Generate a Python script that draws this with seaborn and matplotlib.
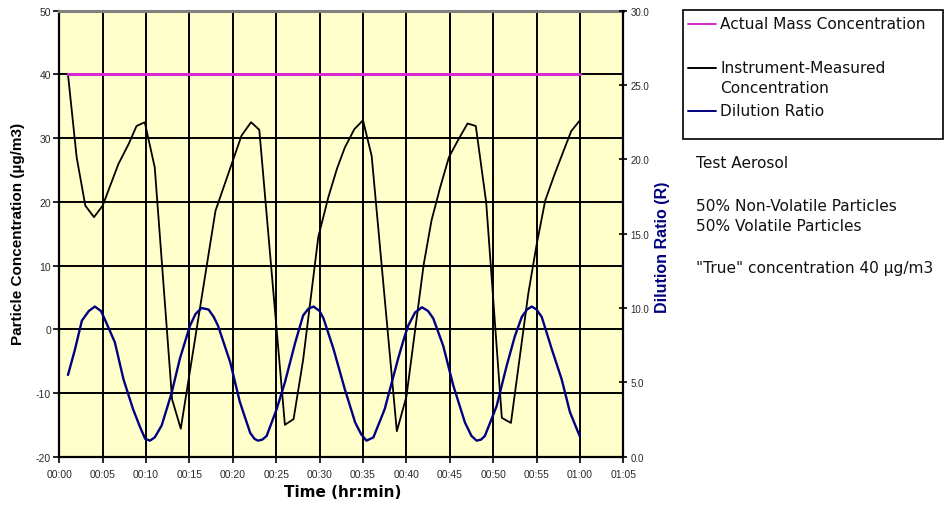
import matplotlib
matplotlib.use("Agg")
import matplotlib.pyplot as plt
from matplotlib.ticker import FuncFormatter, FormatStrFormatter
from matplotlib.lines import Line2D
from matplotlib.patches import Rectangle
import seaborn as sns
import pandas as pd

# ---------------- data ----------------
# time in minutes
actual_time = [1, 60]
actual_mass = [40, 40]

measured_time = [1, 2, 3, 4, 5, 6.8, 8, 8.9, 9.85, 11.0, 13.0, 14.0, 18.0, 21.0, 22.1, 23.05,
                 26.0, 27.0, 28.1, 29.85, 31.0, 32.0, 32.9, 34.0, 35.0, 36.0, 38.9, 40.0,
                 42.0, 42.9, 43.9, 44.9, 46.0, 47.05, 48.0, 49.2, 51.0, 52.05, 54.05, 55.0,
                 56.0, 57.1, 58.2, 59.0, 60.0]
measured_conc = [40.0, 27.0, 19.4, 17.6, 19.4, 25.9, 29.1, 31.9, 32.5, 25.4, -11.0, -15.6, 18.6,
                 30.4, 32.5, 31.3, -15.0, -14.1, -4.8, 14.5, 20.7, 25.2, 28.5, 31.4, 32.8, 27.2,
                 -16.0, -10.6, 10.2, 17.1, 22.3, 27.0, 29.8, 32.3, 31.9, 19.9, -13.9, -14.7,
                 5.6, 13.2, 20.2, 24.4, 28.3, 31.1, 32.8]

dilution_time = [1.0, 1.8, 2.6, 3.4, 4.1, 4.8, 5.2, 6.4, 7.4, 8.5, 9.3, 9.9, 10.45, 11.0, 11.8,
                 12.95, 13.9, 15.05, 15.7, 16.4, 17.2, 17.8, 18.3, 19.7, 20.8, 22.0, 22.5, 22.9,
                 23.4, 23.9, 25.05, 26.0, 27.2, 28.1, 28.7, 29.3, 30.0, 30.45, 31.6, 32.9, 34.1,
                 34.8, 35.4, 36.2, 37.5, 39.05, 39.8, 40.2, 41.0, 41.8, 42.5, 43.1, 44.25, 45.4,
                 46.75, 47.5, 48.1, 48.6, 49.05, 50.4, 51.55, 52.5, 53.3, 53.9, 54.45, 55.0, 55.6,
                 56.75, 57.9, 58.85, 60.0]
dilution_ratio = [5.5, 7.2, 9.15, 9.8, 10.1, 9.8, 9.3, 7.7, 5.2, 3.2, 2.0, 1.2, 1.08, 1.3, 2.1,
                  4.3, 6.6, 8.8, 9.6, 10.0, 9.9, 9.4, 8.8, 6.35, 3.7, 1.6, 1.2, 1.08,
                  1.15, 1.4, 3.2, 5.0, 7.7, 9.5, 9.95, 10.1, 9.8, 9.3, 7.25, 4.55, 2.3,
                  1.5, 1.08, 1.3, 3.2, 6.6, 8.1, 8.8, 9.7, 10.05, 9.8, 9.3, 7.45, 4.8,
                  2.3, 1.4, 1.08, 1.15, 1.4, 3.4, 6.1, 8.1, 9.4, 9.9, 10.1, 9.9, 9.4,
                  7.25, 5.2, 3.0, 1.35]

x_ticks = list(range(0, 66, 5))
left_ticks = [-20, -10, 0, 10, 20, 30, 40, 50]
right_ticks = [0, 5, 10, 15, 20, 25, 30]

legend_labels = ["Actual Mass Concentration", "Instrument-Measured", "Concentration", "Dilution Ratio"]
note_lines = ["Test Aerosol", "50% Non-Volatile Particles", "50% Volatile Particles",
              "\"True\" concentration 40 µg/m3"]

# ---------------- styling ----------------
sns.set_theme(style="white")
plt.rcParams["font.family"] = ["Liberation Sans", "DejaVu Sans"]
plt.rcParams["axes.unicode_minus"] = False

W, H = 947, 506
fig = plt.figure(figsize=(W / 100, H / 100), dpi=100)
L, R, T, B = 59.3, 623.3, 11.7, 457.7
ax = fig.add_axes([L / W, 1 - B / H, (R - L) / W, (B - T) / H])
ax.set_facecolor("#FFFFCC")
ax2 = ax.twinx()

MAGENTA = "#D42AD0"
NAVY = "#000080"

df_actual = pd.DataFrame({"t": actual_time, "v": actual_mass})
df_meas = pd.DataFrame({"t": measured_time, "v": measured_conc})
df_dil = pd.DataFrame({"t": dilution_time, "v": dilution_ratio})

sns.lineplot(data=df_meas, x="t", y="v", ax=ax, color="black", lw=1.3, sort=False, zorder=3)
sns.lineplot(data=df_actual, x="t", y="v", ax=ax, color=MAGENTA, lw=2.2, sort=False, zorder=4)
sns.lineplot(data=df_dil, x="t", y="v", ax=ax2, color=NAVY, lw=1.7, sort=False, zorder=3)

ax.set_xlim(0, 65)
ax.set_ylim(-20, 50)
ax2.set_ylim(0, 30)
ax.set_xticks(x_ticks)
ax.set_yticks(left_ticks)
ax2.set_yticks(right_ticks)
ax.xaxis.set_major_formatter(FuncFormatter(lambda v, p: f"{int(v) // 60:02d}:{int(v) % 60:02d}"))
ax2.yaxis.set_major_formatter(FormatStrFormatter("%.1f"))

ax.set_axisbelow(True)
ax.grid(True, color="black", lw=1.4)
ax2.grid(False)

tick_col = "#2a2a2a"
ax.tick_params(axis="x", direction="out", length=4, width=1.2, color="black",
               labelsize=7.5, labelcolor=tick_col, pad=5, bottom=True)
ax.tick_params(axis="y", direction="out", length=4, width=1.2, color="black",
               labelsize=7.5, labelcolor=tick_col, pad=2, left=True)
ax2.tick_params(axis="y", direction="inout", length=6, width=1.2, color="black",
                labelsize=7, labelcolor=tick_col, pad=2, right=True)

for a in (ax, ax2):
    for s in a.spines.values():
        s.set_linewidth(1.6)
        s.set_color("black")
ax.spines["top"].set_color("#808080")
ax.spines["top"].set_linewidth(2.2)
ax.spines["right"].set_visible(False)
for s in ("left", "bottom", "top"):
    ax2.spines[s].set_visible(False)

ax.set_xlabel("")
ax.set_ylabel("")
ax2.set_ylabel("")

fig.text(18.5 / W, 1 - 233.5 / H, "Particle Concentration (µg/m3)", rotation=90, ha="center",
         va="center", fontsize=11, fontweight="bold", color="black")
fig.text(663 / W, 1 - 247 / H, "Dilution Ratio (R)", rotation=90, ha="center",
         va="center", fontsize=11.5, fontweight="bold", color=NAVY)
fig.text(343 / W, 1 - 493 / H, "Time (hr:min)", ha="center", va="center",
         fontsize=11, fontweight="bold", color="black", family=["DejaVu Sans"])

# ---------------- legend box ----------------
fig.patches.append(Rectangle((683 / W, 1 - 140 / H), 260 / W, 129 / H, transform=fig.transFigure,
                             facecolor="white", edgecolor="black", lw=1.2))
leg_colors = [MAGENTA, "black", None, NAVY]
leg_y = [24.5, 68.5, 88.5, 111.5]
txt_font = ["DejaVu Sans"]
for lab, col, yy in zip(legend_labels, leg_colors, leg_y):
    if col is not None:
        fig.lines.append(Line2D([688 / W, 716 / W], [1 - yy / H, 1 - yy / H],
                                transform=fig.transFigure, color=col, lw=1.4))
    fig.text(720 / W, 1 - yy / H, lab, ha="left", va="center", fontsize=11.1, color="#111111",
             family=txt_font)

note_y = [164, 206.5, 226.5, 268.5]
for txt, yy in zip(note_lines, note_y):
    fig.text(696 / W, 1 - yy / H, txt, ha="left", va="center", fontsize=11.1, color="#111111",
             family=txt_font)

fig.savefig("out.png", dpi=100, facecolor="white")
